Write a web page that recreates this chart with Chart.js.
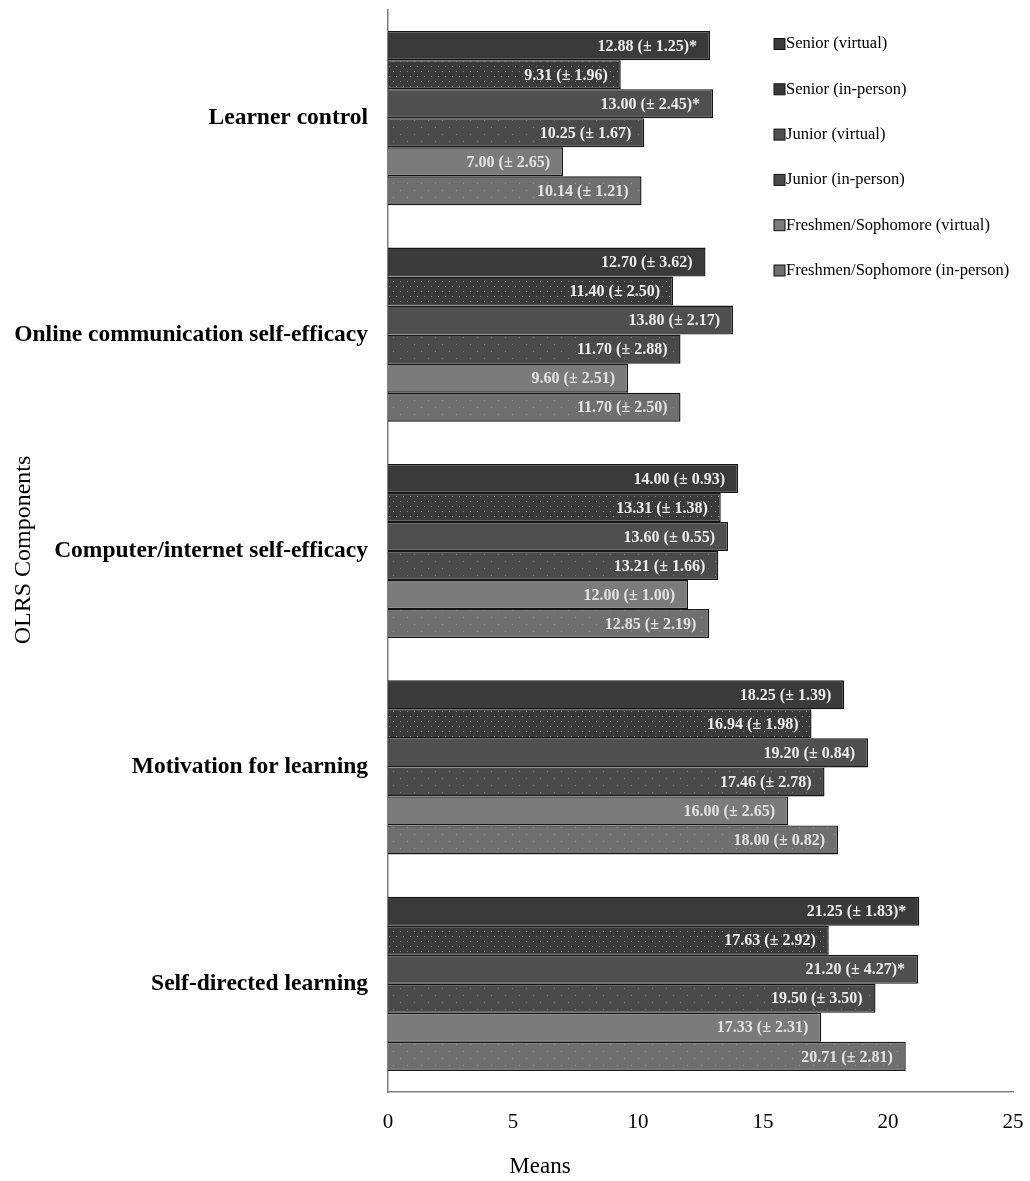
<!DOCTYPE html>
<html>
<head>
<meta charset="utf-8">
<script src="https://cdn.jsdelivr.net/npm/chart.js@4.4.1/dist/chart.umd.min.js"></script>
<style>
  html, body { margin: 0; padding: 0; background: #fff; }
  #wrap { width: 1030px; height: 1181px; }
</style>
</head>
<body>
<div id="wrap"><canvas id="olrsChart" width="1030" height="1181"></canvas></div>
<script>
// Categories (top to bottom)
const components = [
    "Learner control",
    "Online communication self-efficacy",
    "Computer/internet self-efficacy",
    "Motivation for learning",
    "Self-directed learning",
];

const groupNames = [
    "Senior (virtual)",
    "Senior (in-person)",
    "Junior (virtual)",
    "Junior (in-person)",
    "Freshmen/Sophomore (virtual)",
    "Freshmen/Sophomore (in-person)",
];

// Means per group, in category order
const seniorVirtual = [12.88, 12.7, 14.0, 18.25, 21.25];
const seniorInPerson = [9.31, 11.4, 13.31, 16.94, 17.63];
const juniorVirtual = [13.0, 13.8, 13.6, 19.2, 21.2];
const juniorInPerson = [10.25, 11.7, 13.21, 17.46, 19.5];
const freshVirtual = [7.0, 9.6, 12.0, 16.0, 17.33];
const freshInPerson = [10.14, 11.7, 12.85, 18.0, 20.71];

// Standard deviations
const sdSeniorVirtual = [1.25, 3.62, 0.93, 1.39, 1.83];
const sdSeniorInPerson = [1.96, 2.5, 1.38, 1.98, 2.92];
const sdJuniorVirtual = [2.45, 2.17, 0.55, 0.84, 4.27];
const sdJuniorInPerson = [1.67, 2.88, 1.66, 2.78, 3.5];
const sdFreshVirtual = [2.65, 2.51, 1.0, 2.65, 2.31];
const sdFreshInPerson = [1.21, 2.5, 2.19, 0.82, 2.81];

// Significance markers
const sigSeniorVirtual = [true, false, false, false, true];
const sigJuniorVirtual = [true, false, false, false, true];
const noSig = [false, false, false, false, false];

const xTicks = [0, 5, 10, 15, 20, 25];

const FONT = "'Liberation Serif', 'Times New Roman', serif";

// small dot fill like the office "dotted" pattern
function dotPattern(base, w, h, dot) {
    const c = document.createElement("canvas");
    c.width = w;
    c.height = h;
    const g = c.getContext("2d");
    g.fillStyle = base;
    g.fillRect(0, 0, w, h);
    g.fillStyle = dot;
    g.fillRect(1, 1, 1, 1);
    g.fillRect(1 + Math.floor(w / 2), 1 + Math.floor(h / 2), 1, 1);
    return g.createPattern(c, "repeat");
}

const baseColors = ["#3a3a3a", "#3a3a3a", "#4f4f4f", "#4a4a4a", "#7b7b7b", "#6f6f6f"];
const fills = [
    baseColors[0],
    dotPattern(baseColors[1], 7, 10, "#8a8a8a"),
    baseColors[2],
    dotPattern(baseColors[3], 14, 14, "#7c7c7c"),
    baseColors[4],
    dotPattern(baseColors[5], 14, 14, "#959595"),
];
const seriesValues = [seniorVirtual, seniorInPerson, juniorVirtual, juniorInPerson, freshVirtual, freshInPerson];
const seriesSd = [sdSeniorVirtual, sdSeniorInPerson, sdJuniorVirtual, sdJuniorInPerson, sdFreshVirtual, sdFreshInPerson];
const seriesSig = [sigSeniorVirtual, noSig, sigJuniorVirtual, noSig, noSig, noSig];

const datasets = groupNames.map((name, i) => ({
    label: name,
    data: seriesValues[i],
    sd: seriesSd[i],
    sig: seriesSig[i],
    baseColor: baseColors[i],
    backgroundColor: fills[i],
    borderColor: "#151515",
    borderWidth: 1.4,
    barPercentage: 1.0,
    categoryPercentage: 0.805,
}));

// Value labels inside bar ends
const valueLabels = {
    id: "valueLabels",
    afterDatasetsDraw(chart) {
        const ctx = chart.ctx;
        ctx.save();
        ctx.font = "bold 16px " + FONT;
        ctx.textAlign = "right";
        ctx.textBaseline = "middle";
        chart.data.datasets.forEach((ds, di) => {
            const meta = chart.getDatasetMeta(di);
            meta.data.forEach((bar, i) => {
                const txt = ds.data[i].toFixed(2) + " (\u00b1 " + ds.sd[i].toFixed(2) + ")" + (ds.sig[i] ? "*" : "");
                ctx.fillStyle = di >= 4 ? "#e2e2e2" : "#ececec";
                ctx.fillText(txt, bar.x - 13, bar.y + 1);
            });
        });
        ctx.restore();
    },
};

// Legend in upper right + axis titles
const extras = {
    id: "extras",
    afterDraw(chart) {
        const ctx = chart.ctx;
        ctx.save();
        ctx.font = "16.5px " + FONT;
        ctx.textBaseline = "middle";
        ctx.textAlign = "left";
        chart.data.datasets.forEach((ds, i) => {
            const y = 44 + i * 45.3;
            ctx.fillStyle = ds.baseColor;
            ctx.fillRect(774, y - 5.5, 11, 11);
            ctx.strokeStyle = "#111";
            ctx.lineWidth = 1;
            ctx.strokeRect(774, y - 5.5, 11, 11);
            ctx.fillStyle = "#000";
            ctx.fillText(ds.label, 786, y);
        });

        ctx.font = "23px " + FONT;
        ctx.textAlign = "center";
        ctx.fillText("Means", 540, 1167);

        ctx.translate(24, 550);
        ctx.rotate(-Math.PI / 2);
        ctx.font = "24px " + FONT;
        ctx.fillText("OLRS Components", 0, 0);
        ctx.restore();
    },
};

new Chart(document.getElementById("olrsChart").getContext("2d"), {
    type: "bar",
    data: {
        labels: components,
        datasets: datasets,
    },
    options: {
        indexAxis: "y",
        responsive: false,
        animation: false,
        layout: {
            padding: { top: 10, right: 17, left: 0, bottom: 0 },
        },
        plugins: {
            legend: { display: false },
            tooltip: { enabled: false },
        },
        scales: {
            x: {
                min: 0,
                max: 25,
                afterBuildTicks: (scale) => {
                    scale.ticks = xTicks.map((v) => ({ value: v }));
                },
                afterFit: (scale) => {
                    scale.height = 89;
                    scale.paddingLeft = 0;
                    scale.paddingRight = 0;
                },
                grid: { display: false, drawTicks: false },
                border: { display: true, color: "#808080", width: 1.5 },
                ticks: {
                    color: "#000",
                    padding: 18,
                    font: { family: FONT, size: 21 },
                },
            },
            y: {
                afterFit: (scale) => {
                    scale.width = 388;
                    scale.paddingTop = 0;
                    scale.paddingBottom = 0;
                },
                grid: { display: false, drawTicks: false },
                border: { display: true, color: "#808080", width: 1.5 },
                ticks: {
                    color: "#000",
                    padding: 20,
                    font: { family: FONT, size: 23.5, weight: "bold" },
                },
            },
        },
    },
    plugins: [valueLabels, extras],
});
</script>
</body>
</html>
